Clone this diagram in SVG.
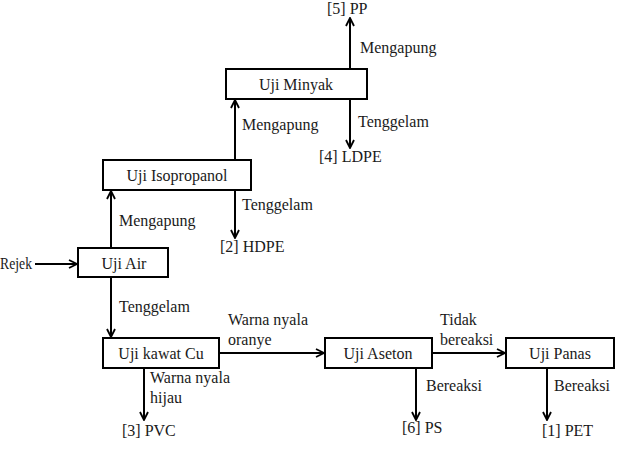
<svg xmlns="http://www.w3.org/2000/svg" width="623" height="450" viewBox="0 0 623 450">
<defs>
<marker id="ah" viewBox="0 0 10 10" refX="9" refY="5" markerWidth="10" markerHeight="10" markerUnits="userSpaceOnUse" orient="auto">
<path d="M1,1 L9,5 L1,9" fill="none" stroke="#000" stroke-width="1.8"/>
</marker>
<style>
.box{fill:#fff;stroke:#000;stroke-width:2}
text{font-family:'Liberation Serif','Times New Roman','DejaVu Serif',serif;font-size:16px;fill:#1a1a1a}
.c{text-anchor:middle}
.ln{stroke:#000;stroke-width:2;fill:none;marker-end:url(#ah)}
</style>
</defs>
<rect width="623" height="450" fill="#fff"/>
<g id="connectors">
<line class="ln" x1="35" y1="264" x2="77" y2="264"/>
<line class="ln" x1="111" y1="248" x2="111" y2="191"/>
<line class="ln" x1="235" y1="160" x2="235" y2="100"/>
<line class="ln" x1="350" y1="69" x2="350" y2="18"/>
<line class="ln" x1="350" y1="99" x2="350" y2="148"/>
<line class="ln" x1="235" y1="190" x2="235" y2="238"/>
<line class="ln" x1="111" y1="277" x2="111" y2="337"/>
<line class="ln" x1="219" y1="353" x2="324" y2="353"/>
<line class="ln" x1="432" y1="353" x2="505" y2="353"/>
<line class="ln" x1="144" y1="368" x2="144" y2="420"/>
<line class="ln" x1="416" y1="368" x2="416" y2="420"/>
<line class="ln" x1="547" y1="368" x2="547" y2="420"/>
</g>
<g id="labels">
<text x="0" y="269" textLength="32" lengthAdjust="spacingAndGlyphs">Rejek</text>
<text x="119" y="226">Mengapung</text>
<text x="242" y="130">Mengapung</text>
<text x="360" y="53">Mengapung</text>
<text x="358" y="127">Tenggelam</text>
<text x="242" y="210">Tenggelam</text>
<text x="119" y="312">Tenggelam</text>
<text x="228" y="325">Warna nyala</text>
<text x="228" y="345">oranye</text>
<text x="150" y="383">Warna nyala</text>
<text x="150" y="403">hijau</text>
<text x="440" y="325">Tidak</text>
<text x="440" y="345">bereaksi</text>
<text x="426" y="391">Bereaksi</text>
<text x="554" y="391">Bereaksi</text>
</g>
<g id="n-uji-air"><rect class="box" x="78" y="248" width="90" height="29"/><text class="c" x="124" y="269">Uji Air</text></g>
<g id="n-uji-isopropanol"><rect class="box" x="103" y="160" width="148" height="30"/><text class="c" x="177" y="181">Uji Isopropanol</text></g>
<g id="n-uji-minyak"><rect class="box" x="226" y="69" width="141" height="30"/><text class="c" x="296" y="90">Uji Minyak</text></g>
<g id="n-uji-kawat"><rect class="box" x="103" y="338" width="116" height="30"/><text class="c" x="161" y="359">Uji kawat Cu</text></g>
<g id="n-uji-aseton"><rect class="box" x="325" y="338" width="107" height="30"/><text class="c" x="378" y="359">Uji Aseton</text></g>
<g id="n-uji-panas"><rect class="box" x="506" y="338" width="108" height="30"/><text class="c" x="560" y="359">Uji Panas</text></g>
<g id="n-pp"><text x="327" y="13.5">[5] PP</text></g>
<g id="n-ldpe"><text x="319" y="162">[4] LDPE</text></g>
<g id="n-hdpe"><text x="220" y="252">[2] HDPE</text></g>
<g id="n-pvc"><text x="122" y="436">[3] PVC</text></g>
<g id="n-ps"><text x="402" y="433">[6] PS</text></g>
<g id="n-pet"><text x="542" y="436">[1] PET</text></g>
</svg>
